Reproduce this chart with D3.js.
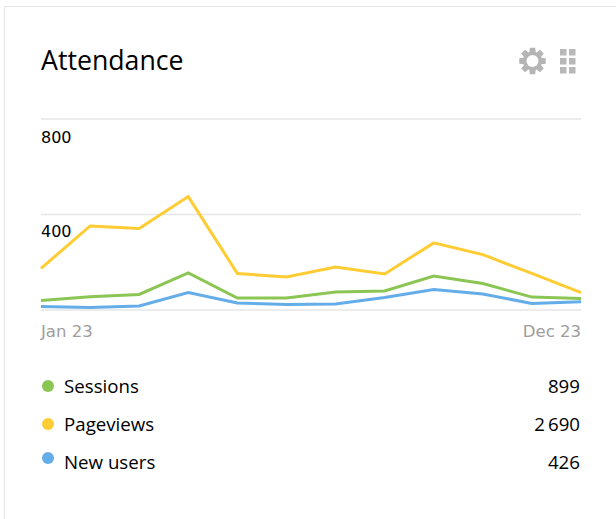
<!DOCTYPE html>
<html>
    <head>
        <meta charset="utf-8">
        <title>Attendance</title>
        <script src="https://cdnjs.cloudflare.com/ajax/libs/d3/7.8.5/d3.min.js"></script>
        <style>
            body { margin: 0; background: #fff; }
            svg { display: block; }
            text { font-family: "Open Sans", sans-serif; fill: #000; }
            .axis text { font-family: "DejaVu Sans", sans-serif; font-size: 16.5px; }
            .axis path { display: none; }
        </style>
    </head>
    <body>
        <svg id="container" width="616" height="519"></svg>
    </body>

    <script>
        const months = ["Jan 23", "Feb 23", "Mar 23", "Apr 23", "May 23", "Jun 23", "Jul 23", "Aug 23", "Sep 23", "Oct 23", "Nov 23", "Dec 23"];
        const yTicks = [0, 400, 800];
        const xLabels = ["Jan 23", "Dec 23"];

        const seriesNames = ["Sessions", "Pageviews", "New users"];
        const seriesTotals = ["899", "2\u2009690", "426"];
        const seriesColors = ["#8bc554", "#ffcc33", "#64ade8"];

        const sessions = [40, 56, 65, 155, 50, 50, 75, 80, 142, 111, 54, 48];
        const pageviews = [174, 352, 341, 475, 153, 138, 180, 151, 281, 232, 153, 73];
        const newUsers = [15, 10, 17, 73, 29, 23, 25, 52, 86, 67, 27, 35];

        const svg = d3.select("#container");

        // card border, only left and top show in the window
        svg.append("path")
            .attr("d", "M4.5,519V6.5H616")
            .attr("fill", "none")
            .attr("stroke", "#e6e6e6");

        svg.append("text")
            .attr("x", 41)
            .attr("y", 70)
            .attr("font-size", 26.7)
            .text("Attendance");

        // settings icon
        const gearCx = 532.5, gearCy = 61;
        let gearPoints = [];
        for (let i = 0; i < 8; i++) {
            const a = (i / 8) * 2 * Math.PI - Math.PI / 2;
            const w = 0.2;
            [[9.5, -w * 1.7], [13.5, -w], [13.5, w], [9.5, w * 1.7]].forEach(p => {
                gearPoints.push([gearCx + p[0] * Math.cos(a + p[1]), gearCy + p[0] * Math.sin(a + p[1])]);
            });
        }
        svg.append("path")
            .attr("d", d3.line()(gearPoints) + "Z")
            .attr("fill", "#b5b5b5");
        svg.append("circle")
            .attr("cx", gearCx)
            .attr("cy", gearCy)
            .attr("r", 6)
            .attr("fill", "#fff");

        // grid icon
        d3.range(2).forEach(c => {
            d3.range(3).forEach(r => {
                svg.append("rect")
                    .attr("x", 560 + c * 9)
                    .attr("y", 49 + r * 9)
                    .attr("width", 6.5)
                    .attr("height", 6.5)
                    .attr("fill", "#b8b8b8");
            });
        });

        const x = d3.scalePoint().domain(months).range([41, 581]);
        const y = d3.scaleLinear().domain([0, 800]).range([310, 119]);

        const yAxis = svg.append("g")
            .attr("class", "axis")
            .attr("transform", "translate(41,0)")
            .call(d3.axisRight(y)
                .offset(0)
                .tickValues(yTicks)
                .tickSize(540)
                .tickFormat(d => d === 0 ? "" : d));

        yAxis.selectAll("line")
            .attr("stroke", "#e6e6e6")
            .attr("stroke-width", 1.5);

        yAxis.selectAll("text")
            .attr("x", 0)
            .attr("dy", null)
            .attr("y", d => d === 800 ? 24 : 22)
            .attr("text-anchor", "start")
            .style("font-size", "16px");

        const xAxis = svg.append("g")
            .attr("class", "axis")
            .attr("transform", "translate(0," + y(0) + ")")
            .call(d3.axisBottom(x).offset(0).tickValues(xLabels).tickSize(0));

        xAxis.selectAll("text")
            .attr("y", 27)
            .attr("dy", null)
            .style("fill", "#a09c9c")
            .attr("text-anchor", (d, i) => i === 0 ? "start" : "end");

        const line = d3.line()
            .x((d, i) => x(months[i]))
            .y(d => y(d));

        [sessions, pageviews, newUsers].forEach((values, i) => {
            svg.append("path")
                .attr("d", line(values))
                .attr("fill", "none")
                .attr("stroke", seriesColors[i])
                .attr("stroke-width", 3);
        });

        // legend
        const dotY = [386, 424, 458];
        const textY = [393, 431, 469];

        seriesNames.forEach((name, i) => {
            svg.append("circle")
                .attr("cx", 48)
                .attr("cy", dotY[i])
                .attr("r", 6)
                .attr("fill", seriesColors[i]);
            svg.append("text")
                .attr("x", 64)
                .attr("y", textY[i])
                .attr("font-size", 18.7)
                .text(name);
            svg.append("text")
                .attr("x", 580)
                .attr("y", textY[i])
                .attr("font-size", 18.7)
                .attr("text-anchor", "end")
                .text(seriesTotals[i]);
        });
    </script>
</html>
